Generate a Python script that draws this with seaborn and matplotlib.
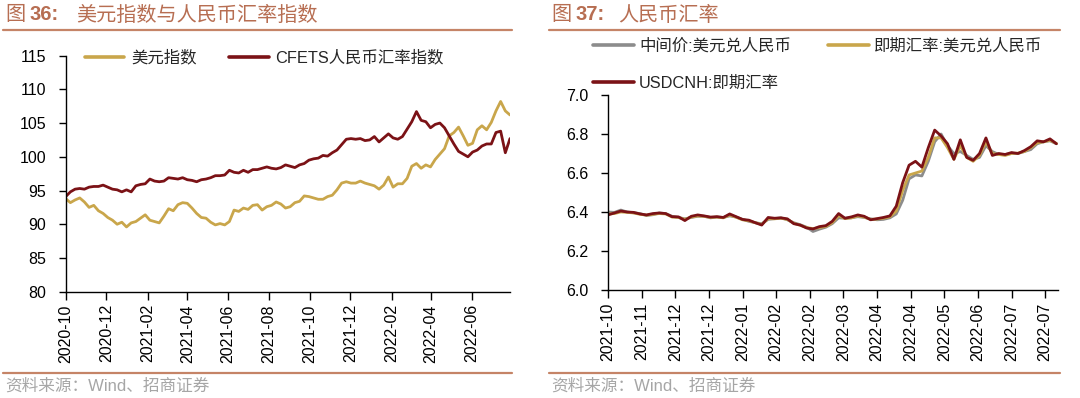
"""
Figure 36/37 recreation - USD index vs CFETS RMB index, RMB exchange rates
"""

import numpy as np
import pandas as pd
import matplotlib
matplotlib.use("Agg")
import matplotlib.pyplot as plt
import matplotlib.dates as mdates
from matplotlib.lines import Line2D
from matplotlib.ticker import FormatStrFormatter, MultipleLocator
import seaborn as sns

# ---- Figure 36: weekly values starting 2020-10-01 ----
left_start = "2020-10-01"
left_end = "2022-07-28"
dxy = [
    93.8, 93.2, 93.6, 93.9, 93.3, 92.5, 92.8, 92.0, 91.6, 91.0,
    90.6, 90.0, 90.3, 89.6, 90.2, 90.4, 90.9, 91.4, 90.6, 90.4,
    90.2, 91.2, 92.3, 92.0, 92.9, 93.2, 93.1, 92.4, 91.6, 91.0,
    90.9, 90.3, 89.9, 90.1, 89.9, 90.4, 92.1, 91.9, 92.4, 92.2,
    92.8, 92.9, 92.1, 92.6, 92.8, 93.3, 93.0, 92.4, 92.6, 93.2,
    93.4, 94.2, 94.1, 93.9, 93.7, 93.7, 94.1, 94.3, 95.1, 96.1,
    96.3, 96.1, 96.1, 96.4, 96.1, 95.9, 95.7, 95.2, 95.8, 97.0,
    95.5, 96.0, 96.0, 96.8, 98.6, 99.0, 98.3, 98.8, 98.5, 99.6,
    100.4, 101.2, 103.1, 103.6, 104.4, 103.1, 101.7, 102.0, 104.0, 104.6,
    104.0, 105.1, 106.8, 108.2, 106.8, 106.2,
]
cfets = [
    94.1, 94.8, 95.2, 95.3, 95.2, 95.5, 95.6, 95.6, 95.8, 95.5,
    95.2, 95.1, 94.8, 95.1, 94.8, 95.7, 95.9, 96.0, 96.7, 96.4,
    96.3, 96.4, 96.9, 96.8, 96.7, 96.9, 96.6, 96.5, 96.3, 96.6,
    96.7, 96.9, 97.2, 97.2, 97.3, 98.0, 97.7, 97.6, 98.0, 97.7,
    98.1, 98.1, 98.3, 98.5, 98.3, 98.2, 98.4, 98.8, 98.6, 98.4,
    98.8, 99.0, 99.5, 99.7, 99.8, 100.2, 100.1, 100.6, 101.0, 101.8,
    102.6, 102.7, 102.6, 102.7, 102.4, 102.5, 103.0, 102.2, 102.8, 103.4,
    102.8, 102.6, 103.0, 104.1, 105.2, 106.7, 105.4, 105.2, 104.3, 104.8,
    105.0, 104.3, 103.1, 101.9, 100.8, 100.4, 100.0, 100.7, 101.0, 101.6,
    101.9, 101.9, 103.6, 103.8, 100.6, 102.7,
]
left_names = ["美元指数", "CFETS人民币汇率指数"]

# ---- Figure 37: values every 4 days starting 2021-10-22 ----
right_start = "2021-10-22"
right_end = "2022-07-30"
usdcny_mid = [
    6.400, 6.398, 6.410, 6.400, 6.396, 6.392, 6.382, 6.386, 6.395, 6.392,
    6.378, 6.372, 6.365, 6.372, 6.378, 6.378, 6.370, 6.374, 6.372, 6.380,
    6.374, 6.362, 6.352, 6.345, 6.340, 6.362, 6.366, 6.370, 6.360, 6.345,
    6.335, 6.322, 6.300, 6.312, 6.322, 6.340, 6.370, 6.368, 6.370, 6.376,
    6.372, 6.365, 6.360, 6.362, 6.370, 6.390, 6.460, 6.570, 6.590, 6.585,
    6.660, 6.760, 6.800, 6.740, 6.700, 6.710, 6.690, 6.670, 6.680, 6.740,
    6.710, 6.695, 6.695, 6.700, 6.700, 6.710, 6.720, 6.750, 6.760, 6.765,
    6.750,
]
usdcny_spot = [
    6.390, 6.392, 6.400, 6.398, 6.395, 6.388, 6.384, 6.388, 6.392, 6.390,
    6.374, 6.372, 6.362, 6.374, 6.380, 6.378, 6.372, 6.374, 6.370, 6.385,
    6.373, 6.360, 6.355, 6.345, 6.336, 6.366, 6.365, 6.368, 6.362, 6.342,
    6.332, 6.320, 6.315, 6.320, 6.326, 6.345, 6.382, 6.366, 6.370, 6.380,
    6.374, 6.362, 6.364, 6.368, 6.375, 6.405, 6.510, 6.590, 6.600, 6.610,
    6.680, 6.780, 6.780, 6.730, 6.670, 6.740, 6.680, 6.660, 6.690, 6.760,
    6.700, 6.695, 6.690, 6.700, 6.702, 6.710, 6.730, 6.755, 6.760, 6.768,
    6.752,
]
usdcnh = [
    6.385, 6.395, 6.405, 6.400, 6.398, 6.390, 6.385, 6.392, 6.395, 6.392,
    6.376, 6.375, 6.356, 6.378, 6.385, 6.380, 6.374, 6.376, 6.372, 6.390,
    6.376, 6.362, 6.358, 6.345, 6.333, 6.372, 6.368, 6.370, 6.365, 6.340,
    6.333, 6.318, 6.313, 6.325, 6.330, 6.352, 6.392, 6.368, 6.375, 6.385,
    6.378, 6.360, 6.366, 6.372, 6.380, 6.430, 6.550, 6.640, 6.660, 6.630,
    6.730, 6.820, 6.790, 6.750, 6.670, 6.770, 6.680, 6.665, 6.700, 6.780,
    6.690, 6.700, 6.695, 6.705, 6.700, 6.715, 6.735, 6.765, 6.760, 6.775,
    6.750,
]
right_names = ["中间价:美元兑人民币", "即期汇率:美元兑人民币", "USDCNH:即期汇率"]

GOLD = "#C9A64B"
RED = "#7B1216"
GRAY = "#8C8C8C"
TITLE_C = "#B76E52"
RULE_C = "#C58467"
SOURCE_C = "#A6A6A6"

W, H = 1080, 398


def fx(px):
    return px / W


def fy(py):
    return 1 - py / H


def style_axis(ax):
    sns.despine(ax=ax)
    for s in ["left", "bottom"]:
        ax.spines[s].set_color("black")
        ax.spines[s].set_linewidth(1.0)
    ax.tick_params(axis="y", direction="out", length=5, width=1, pad=9,
                   labelsize=11.5, colors="black")
    ax.tick_params(axis="x", direction="out", length=6, width=1, pad=3,
                   labelsize=11.5, colors="black", labelrotation=90)
    ax.set_xlabel("")
    ax.set_ylabel("")
    ax.grid(False)


sns.set_style("ticks")
plt.rcParams["font.family"] = ["Liberation Sans", "Noto Sans CJK SC"]
plt.rcParams["axes.unicode_minus"] = False

fig = plt.figure(figsize=(W / 100, H / 100), dpi=100)

# ---- left panel ----
left_dates = pd.date_range(left_start, periods=len(dxy), freq="7D")
left_df = pd.concat([
    pd.DataFrame({"date": left_dates, "value": dxy, "series": left_names[0]}),
    pd.DataFrame({"date": left_dates, "value": cfets, "series": left_names[1]}),
])
ax1 = fig.add_axes([fx(65.7), fy(291.7), fx(444.3), 236.1 / H])
sns.lineplot(data=left_df, x="date", y="value", hue="series",
             hue_order=left_names, palette=[GOLD, RED], linewidth=2.0,
             legend=False, ax=ax1)
ax1.set_xlim(pd.Timestamp(left_start), pd.Timestamp(left_end))
ax1.set_ylim(80, 115)
ax1.yaxis.set_major_locator(MultipleLocator(5))
ax1.xaxis.set_major_locator(mdates.MonthLocator(bymonth=[2, 4, 6, 8, 10, 12]))
ax1.xaxis.set_major_formatter(mdates.DateFormatter("%Y-%m"))
style_axis(ax1)

left_handles = [Line2D([], [], color=GOLD, lw=2.6), Line2D([], [], color=RED, lw=2.6)]
ax1.legend(left_handles, left_names, ncol=2, loc="center left",
           bbox_to_anchor=(fx(85), fy(58)), bbox_transform=fig.transFigure,
           frameon=False, borderpad=0, borderaxespad=0, handlelength=2.4,
           handletextpad=0.4, columnspacing=2.0, fontsize=11.8)

# ---- right panel ----
right_dates = pd.date_range(right_start, periods=len(usdcnh), freq="4D")
right_df = pd.concat([
    pd.DataFrame({"date": right_dates, "value": usdcny_mid, "series": right_names[0]}),
    pd.DataFrame({"date": right_dates, "value": usdcny_spot, "series": right_names[1]}),
    pd.DataFrame({"date": right_dates, "value": usdcnh, "series": right_names[2]}),
])
ax2 = fig.add_axes([fx(608), fy(290), fx(450), 195 / H])
sns.lineplot(data=right_df, x="date", y="value", hue="series",
             hue_order=right_names, palette=[GRAY, GOLD, RED], linewidth=2.0,
             legend=False, ax=ax2)
ax2.set_xlim(pd.Timestamp(right_start), pd.Timestamp(right_end))
ax2.set_ylim(6.0, 7.0)
ax2.yaxis.set_major_locator(MultipleLocator(0.2))
ax2.yaxis.set_major_formatter(FormatStrFormatter("%.1f"))
right_ticks = pd.date_range(right_start, periods=14, freq="21D")
ax2.set_xticks(right_ticks)
ax2.set_xticklabels([d.strftime("%Y-%m") for d in right_ticks])
style_axis(ax2)

right_handles = [Line2D([], [], color=GRAY, lw=2.6), Line2D([], [], color=RED, lw=2.6),
                 Line2D([], [], color=GOLD, lw=2.6)]
ax2.legend(right_handles, [right_names[0], right_names[2], right_names[1]], ncol=2,
           loc="upper left", bbox_to_anchor=(fx(593), fy(38)),
           bbox_transform=fig.transFigure, frameon=False, borderpad=0,
           borderaxespad=0, handlelength=2.5, handletextpad=0.3,
           columnspacing=2.3, labelspacing=1.35, fontsize=11.8)

# ---- titles, rules and sources ----
for x0, num, text, tx in [(5, "36:", "美元指数与人民币汇率指数", 76),
                          (551, "37:", "人民币汇率", 618)]:
    fig.text(fx(x0), fy(15), "图", fontsize=14.5, color=TITLE_C, va="center", ha="left")
    fig.text(fx(x0 + 25), fy(15), num, fontsize=14.5, color=TITLE_C, va="center",
             ha="left", weight="bold")
    fig.text(fx(tx), fy(15), text, fontsize=14.5, color=TITLE_C, va="center", ha="left")

for x0, x1 in [(3, 512), (549, 1060)]:
    for yy in (29.5, 373):
        fig.add_artist(Line2D([fx(x0), fx(x1)], [fy(yy), fy(yy)],
                              transform=fig.transFigure, color=RULE_C, lw=1.6))
    fig.text(fx(x0 + 2), fy(386), "资料来源：Wind、招商证券", fontsize=12,
             color=SOURCE_C, va="center", ha="left")

fig.savefig("out.png", dpi=100, facecolor="white")
plt.close(fig)
